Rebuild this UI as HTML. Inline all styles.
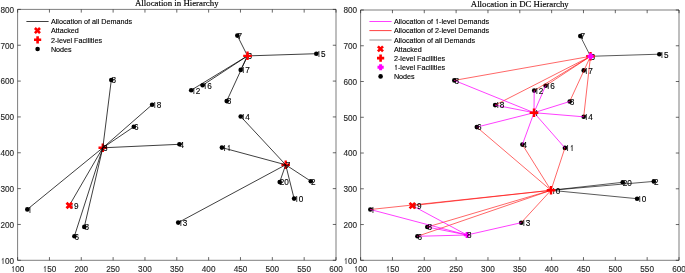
<!DOCTYPE html>
<html><head><meta charset="utf-8"><style>
html,body{margin:0;padding:0;background:#fff;width:685px;height:273px;overflow:hidden}
svg{display:block;will-change:transform}
.tk{font-family:"Liberation Sans",sans-serif;font-size:8.2px;fill:#262626;stroke:#262626;stroke-width:0.12px}
.lg{font-family:"Liberation Sans",sans-serif;font-size:7.2px;fill:#000;stroke:#000;stroke-width:0.12px}
.lb{font-family:"Liberation Sans",sans-serif;font-size:8.2px;fill:#000;stroke:#000;stroke-width:0.12px}
.tt{font-family:"Liberation Serif",serif;font-size:8.8px;fill:#000;stroke:#000;stroke-width:0.15px}
</style></head><body>
<svg width="685" height="273" viewBox="0 0 685 273">
<rect width="685" height="273" fill="#fff"/>
<text x="176.8" y="6.4" class="tt" text-anchor="middle">Allocation in Hierarchy</text>
<path d="M17.6 260.3V9.4H336.0V260.3Z" stroke="#262626" stroke-width="0.6" fill="none"/>
<path d="M17.60 260.3v-3.2M17.60 9.4v3.2" stroke="#262626" stroke-width="0.7"/>
<text x="10.76" y="272.20" class="tk"> 00</text><path d="M13.31 272.00V266.25M13.51 266.55L12.01 267.75" stroke="#262626" stroke-width="0.75" fill="none"/>
<path d="M49.44 260.3v-3.2M49.44 9.4v3.2" stroke="#262626" stroke-width="0.7"/>
<text x="42.60" y="272.20" class="tk"> 50</text><path d="M45.15 272.00V266.25M45.35 266.55L43.85 267.75" stroke="#262626" stroke-width="0.75" fill="none"/>
<path d="M81.28 260.3v-3.2M81.28 9.4v3.2" stroke="#262626" stroke-width="0.7"/>
<text x="74.44" y="272.20" class="tk">200</text>
<path d="M113.12 260.3v-3.2M113.12 9.4v3.2" stroke="#262626" stroke-width="0.7"/>
<text x="106.28" y="272.20" class="tk">250</text>
<path d="M144.96 260.3v-3.2M144.96 9.4v3.2" stroke="#262626" stroke-width="0.7"/>
<text x="138.12" y="272.20" class="tk">300</text>
<path d="M176.80 260.3v-3.2M176.80 9.4v3.2" stroke="#262626" stroke-width="0.7"/>
<text x="169.96" y="272.20" class="tk">350</text>
<path d="M208.64 260.3v-3.2M208.64 9.4v3.2" stroke="#262626" stroke-width="0.7"/>
<text x="201.80" y="272.20" class="tk">400</text>
<path d="M240.48 260.3v-3.2M240.48 9.4v3.2" stroke="#262626" stroke-width="0.7"/>
<text x="233.64" y="272.20" class="tk">450</text>
<path d="M272.32 260.3v-3.2M272.32 9.4v3.2" stroke="#262626" stroke-width="0.7"/>
<text x="265.48" y="272.20" class="tk">500</text>
<path d="M304.16 260.3v-3.2M304.16 9.4v3.2" stroke="#262626" stroke-width="0.7"/>
<text x="297.32" y="272.20" class="tk">550</text>
<path d="M336.00 260.3v-3.2M336.00 9.4v3.2" stroke="#262626" stroke-width="0.7"/>
<text x="329.16" y="272.20" class="tk">600</text>
<path d="M17.6 260.30h3.2M336.0 260.30h-3.2" stroke="#262626" stroke-width="0.7"/>
<text x="0.52" y="263.60" class="tk"> 00</text><path d="M3.07 264.00V258.25M3.27 258.55L1.77 259.75" stroke="#262626" stroke-width="0.75" fill="none"/>
<path d="M17.6 224.46h3.2M336.0 224.46h-3.2" stroke="#262626" stroke-width="0.7"/>
<text x="0.52" y="227.76" class="tk">200</text>
<path d="M17.6 188.61h3.2M336.0 188.61h-3.2" stroke="#262626" stroke-width="0.7"/>
<text x="0.52" y="191.91" class="tk">300</text>
<path d="M17.6 152.77h3.2M336.0 152.77h-3.2" stroke="#262626" stroke-width="0.7"/>
<text x="0.52" y="156.07" class="tk">400</text>
<path d="M17.6 116.93h3.2M336.0 116.93h-3.2" stroke="#262626" stroke-width="0.7"/>
<text x="0.52" y="120.23" class="tk">500</text>
<path d="M17.6 81.09h3.2M336.0 81.09h-3.2" stroke="#262626" stroke-width="0.7"/>
<text x="0.52" y="84.39" class="tk">600</text>
<path d="M17.6 45.24h3.2M336.0 45.24h-3.2" stroke="#262626" stroke-width="0.7"/>
<text x="0.52" y="48.54" class="tk">700</text>
<path d="M17.6 9.40h3.2M336.0 9.40h-3.2" stroke="#262626" stroke-width="0.7"/>
<text x="0.52" y="12.70" class="tk">800</text>
<path d="M98.5 147.8H107.1M102.8 143.5V152.1" stroke="#f00" stroke-width="2.4" fill="none"/>
<path d="M281.4 164.8H290.0M285.7 160.5V169.1" stroke="#f00" stroke-width="2.4" fill="none"/>
<line x1="247.5" y1="55.9" x2="237.3" y2="35.6" stroke="#000" stroke-width="0.75"/>
<line x1="247.5" y1="55.9" x2="316.3" y2="53.7" stroke="#000" stroke-width="0.75"/>
<line x1="247.5" y1="55.9" x2="240.7" y2="69.9" stroke="#000" stroke-width="0.75"/>
<line x1="247.5" y1="55.9" x2="226.7" y2="101.1" stroke="#000" stroke-width="0.75"/>
<line x1="247.5" y1="55.9" x2="202.6" y2="85.3" stroke="#000" stroke-width="0.75"/>
<line x1="247.5" y1="55.9" x2="191.2" y2="90.2" stroke="#000" stroke-width="0.75"/>
<line x1="102.8" y1="147.8" x2="111.3" y2="80.0" stroke="#000" stroke-width="0.75"/>
<line x1="102.8" y1="147.8" x2="152.1" y2="104.7" stroke="#000" stroke-width="0.75"/>
<line x1="102.8" y1="147.8" x2="133.8" y2="126.8" stroke="#000" stroke-width="0.75"/>
<line x1="102.8" y1="147.8" x2="179.4" y2="144.3" stroke="#000" stroke-width="0.75"/>
<line x1="102.8" y1="147.8" x2="27.3" y2="209.4" stroke="#000" stroke-width="0.75"/>
<line x1="102.8" y1="147.8" x2="69.3" y2="205.5" stroke="#000" stroke-width="0.75"/>
<line x1="102.8" y1="147.8" x2="84.3" y2="226.9" stroke="#000" stroke-width="0.75"/>
<line x1="102.8" y1="147.8" x2="74.4" y2="236.2" stroke="#000" stroke-width="0.75"/>
<line x1="285.7" y1="164.8" x2="240.7" y2="116.5" stroke="#000" stroke-width="0.75"/>
<line x1="285.7" y1="164.8" x2="221.9" y2="147.6" stroke="#000" stroke-width="0.75"/>
<line x1="285.7" y1="164.8" x2="279.7" y2="182.1" stroke="#000" stroke-width="0.75"/>
<line x1="285.7" y1="164.8" x2="310.8" y2="181.2" stroke="#000" stroke-width="0.75"/>
<line x1="285.7" y1="164.8" x2="294.1" y2="198.6" stroke="#000" stroke-width="0.75"/>
<line x1="285.7" y1="164.8" x2="178.2" y2="222.6" stroke="#000" stroke-width="0.75"/>
<text x="237.40" y="38.95" class="lb">7</text>
<text x="316.40" y="57.05" class="lb"> 5</text><path d="M318.95 57.00V51.25M319.15 51.55L317.65 52.75" stroke="#000" stroke-width="0.75" fill="none"/>
<text x="240.80" y="73.25" class="lb"> 7</text><path d="M243.35 73.00V67.25M243.55 67.55L242.05 68.75" stroke="#000" stroke-width="0.75" fill="none"/>
<text x="202.70" y="88.65" class="lb"> 6</text><path d="M205.25 89.00V83.25M205.45 83.55L203.95 84.75" stroke="#000" stroke-width="0.75" fill="none"/>
<text x="191.30" y="93.55" class="lb"> 2</text><path d="M193.85 94.00V88.25M194.05 88.55L192.55 89.75" stroke="#000" stroke-width="0.75" fill="none"/>
<text x="226.80" y="104.45" class="lb">8</text>
<text x="240.80" y="119.80" class="lb"> 4</text><path d="M243.35 120.00V114.25M243.55 114.55L242.05 115.75" stroke="#000" stroke-width="0.75" fill="none"/>
<text x="111.40" y="83.30" class="lb">8</text>
<text x="152.20" y="108.05" class="lb"> 8</text><path d="M154.75 108.00V102.25M154.95 102.55L153.45 103.75" stroke="#000" stroke-width="0.75" fill="none"/>
<text x="133.90" y="130.15" class="lb">6</text>
<text x="179.50" y="147.65" class="lb">4</text>
<path d="M224.55 151.00V145.25M224.75 145.55L223.25 146.75" stroke="#000" stroke-width="0.75" fill="none"/><path d="M229.11 151.00V145.25M229.31 145.55L227.81 146.75" stroke="#000" stroke-width="0.75" fill="none"/>
<text x="279.80" y="185.45" class="lb">20</text>
<text x="310.90" y="184.55" class="lb">2</text>
<text x="294.20" y="201.95" class="lb"> 0</text><path d="M296.75 202.00V196.25M296.95 196.55L295.45 197.75" stroke="#000" stroke-width="0.75" fill="none"/>
<text x="178.30" y="225.95" class="lb"> 3</text><path d="M180.85 226.00V220.25M181.05 220.55L179.55 221.75" stroke="#000" stroke-width="0.75" fill="none"/>
<path d="M29.95 213.00V207.25M30.15 207.55L28.65 208.75" stroke="#000" stroke-width="0.75" fill="none"/>
<text x="84.40" y="230.25" class="lb">8</text>
<text x="74.50" y="239.55" class="lb">6</text>
<text x="69.40" y="208.85" class="lb"> 9</text><path d="M71.95 209.00V203.25M72.15 203.55L70.65 204.75" stroke="#000" stroke-width="0.75" fill="none"/>
<text x="247.60" y="59.20" class="lb">3</text>
<text x="102.90" y="151.15" class="lb">3</text>
<text x="285.80" y="168.15" class="lb">7</text>
<circle cx="237.3" cy="35.6" r="2.3" fill="#000"/>
<circle cx="316.3" cy="53.7" r="2.3" fill="#000"/>
<circle cx="240.7" cy="69.9" r="2.3" fill="#000"/>
<circle cx="202.6" cy="85.3" r="2.3" fill="#000"/>
<circle cx="191.2" cy="90.2" r="2.3" fill="#000"/>
<circle cx="226.7" cy="101.1" r="2.3" fill="#000"/>
<circle cx="240.7" cy="116.5" r="2.3" fill="#000"/>
<circle cx="111.3" cy="80.0" r="2.3" fill="#000"/>
<circle cx="152.1" cy="104.7" r="2.3" fill="#000"/>
<circle cx="133.8" cy="126.8" r="2.3" fill="#000"/>
<circle cx="179.4" cy="144.3" r="2.3" fill="#000"/>
<circle cx="221.9" cy="147.6" r="2.3" fill="#000"/>
<circle cx="279.7" cy="182.1" r="2.3" fill="#000"/>
<circle cx="310.8" cy="181.2" r="2.3" fill="#000"/>
<circle cx="294.1" cy="198.6" r="2.3" fill="#000"/>
<circle cx="178.2" cy="222.6" r="2.3" fill="#000"/>
<circle cx="27.3" cy="209.4" r="2.3" fill="#000"/>
<circle cx="84.3" cy="226.9" r="2.3" fill="#000"/>
<circle cx="74.4" cy="236.2" r="2.3" fill="#000"/>
<path d="M66.5 202.8L72.0 208.2M66.5 208.2L72.0 202.8" stroke="#f00" stroke-width="2.7" fill="none"/>
<path d="M243.2 55.9H251.8M247.5 51.6V60.1" stroke="#f00" stroke-width="2.4" fill="none"/>
<line x1="26.4" y1="21.5" x2="48.6" y2="21.5" stroke="#000" stroke-width="0.75"/>
<text x="50.9" y="24.3" class="lg">Allocation of all Demands</text>
<path d="M34.9 28.0L40.0 33.1M34.9 33.1L40.0 28.0" stroke="#f00" stroke-width="2.6" fill="none"/>
<text x="50.9" y="33.4" class="lg">Attacked</text>
<path d="M34.0 39.8H41.2M37.6 36.2V43.4" stroke="#f00" stroke-width="2.6" fill="none"/>
<text x="50.9" y="42.6" class="lg">2-level Facilities</text>
<circle cx="37.6" cy="49.0" r="2.3" fill="#000"/>
<text x="50.9" y="51.8" class="lg">Nodes</text>
<text x="519.8" y="6.9" class="tt" text-anchor="middle">Allocation in DC Hierarchy</text>
<path d="M360.6 260.3V10.0H679.0V260.3Z" stroke="#262626" stroke-width="0.6" fill="none"/>
<path d="M360.60 260.3v-3.2M360.60 10.0v3.2" stroke="#262626" stroke-width="0.7"/>
<text x="353.76" y="272.20" class="tk"> 00</text><path d="M356.31 272.00V266.25M356.51 266.55L355.01 267.75" stroke="#262626" stroke-width="0.75" fill="none"/>
<path d="M392.44 260.3v-3.2M392.44 10.0v3.2" stroke="#262626" stroke-width="0.7"/>
<text x="385.60" y="272.20" class="tk"> 50</text><path d="M388.15 272.00V266.25M388.35 266.55L386.85 267.75" stroke="#262626" stroke-width="0.75" fill="none"/>
<path d="M424.28 260.3v-3.2M424.28 10.0v3.2" stroke="#262626" stroke-width="0.7"/>
<text x="417.44" y="272.20" class="tk">200</text>
<path d="M456.12 260.3v-3.2M456.12 10.0v3.2" stroke="#262626" stroke-width="0.7"/>
<text x="449.28" y="272.20" class="tk">250</text>
<path d="M487.96 260.3v-3.2M487.96 10.0v3.2" stroke="#262626" stroke-width="0.7"/>
<text x="481.12" y="272.20" class="tk">300</text>
<path d="M519.80 260.3v-3.2M519.80 10.0v3.2" stroke="#262626" stroke-width="0.7"/>
<text x="512.96" y="272.20" class="tk">350</text>
<path d="M551.64 260.3v-3.2M551.64 10.0v3.2" stroke="#262626" stroke-width="0.7"/>
<text x="544.80" y="272.20" class="tk">400</text>
<path d="M583.48 260.3v-3.2M583.48 10.0v3.2" stroke="#262626" stroke-width="0.7"/>
<text x="576.64" y="272.20" class="tk">450</text>
<path d="M615.32 260.3v-3.2M615.32 10.0v3.2" stroke="#262626" stroke-width="0.7"/>
<text x="608.48" y="272.20" class="tk">500</text>
<path d="M647.16 260.3v-3.2M647.16 10.0v3.2" stroke="#262626" stroke-width="0.7"/>
<text x="640.32" y="272.20" class="tk">550</text>
<path d="M679.00 260.3v-3.2M679.00 10.0v3.2" stroke="#262626" stroke-width="0.7"/>
<text x="672.16" y="272.20" class="tk">600</text>
<path d="M360.6 260.30h3.2M679.0 260.30h-3.2" stroke="#262626" stroke-width="0.7"/>
<text x="343.52" y="263.60" class="tk"> 00</text><path d="M346.07 264.00V258.25M346.27 258.55L344.77 259.75" stroke="#262626" stroke-width="0.75" fill="none"/>
<path d="M360.6 224.54h3.2M679.0 224.54h-3.2" stroke="#262626" stroke-width="0.7"/>
<text x="343.52" y="227.84" class="tk">200</text>
<path d="M360.6 188.79h3.2M679.0 188.79h-3.2" stroke="#262626" stroke-width="0.7"/>
<text x="343.52" y="192.09" class="tk">300</text>
<path d="M360.6 153.03h3.2M679.0 153.03h-3.2" stroke="#262626" stroke-width="0.7"/>
<text x="343.52" y="156.33" class="tk">400</text>
<path d="M360.6 117.27h3.2M679.0 117.27h-3.2" stroke="#262626" stroke-width="0.7"/>
<text x="343.52" y="120.57" class="tk">500</text>
<path d="M360.6 81.51h3.2M679.0 81.51h-3.2" stroke="#262626" stroke-width="0.7"/>
<text x="343.52" y="84.81" class="tk">600</text>
<path d="M360.6 45.76h3.2M679.0 45.76h-3.2" stroke="#262626" stroke-width="0.7"/>
<text x="343.52" y="49.06" class="tk">700</text>
<path d="M360.6 10.00h3.2M679.0 10.00h-3.2" stroke="#262626" stroke-width="0.7"/>
<text x="343.52" y="13.30" class="tk">800</text>
<circle cx="580.3" cy="36.1" r="2.3" fill="#000"/>
<circle cx="659.3" cy="54.2" r="2.3" fill="#000"/>
<circle cx="583.7" cy="70.4" r="2.3" fill="#000"/>
<circle cx="545.6" cy="85.7" r="2.3" fill="#000"/>
<circle cx="534.2" cy="90.6" r="2.3" fill="#000"/>
<circle cx="569.7" cy="101.5" r="2.3" fill="#000"/>
<circle cx="583.7" cy="116.8" r="2.3" fill="#000"/>
<circle cx="454.3" cy="80.4" r="2.3" fill="#000"/>
<circle cx="495.1" cy="105.1" r="2.3" fill="#000"/>
<circle cx="476.8" cy="127.1" r="2.3" fill="#000"/>
<circle cx="522.4" cy="144.6" r="2.3" fill="#000"/>
<circle cx="564.9" cy="147.9" r="2.3" fill="#000"/>
<circle cx="622.7" cy="182.3" r="2.3" fill="#000"/>
<circle cx="653.8" cy="181.4" r="2.3" fill="#000"/>
<circle cx="637.1" cy="198.7" r="2.3" fill="#000"/>
<circle cx="521.2" cy="222.7" r="2.3" fill="#000"/>
<circle cx="370.3" cy="209.5" r="2.3" fill="#000"/>
<circle cx="427.3" cy="227.0" r="2.3" fill="#000"/>
<circle cx="417.4" cy="236.3" r="2.3" fill="#000"/>
<line x1="590.5" y1="56.3" x2="580.3" y2="36.1" stroke="#000" stroke-width="0.65"/>
<line x1="590.5" y1="56.3" x2="659.3" y2="54.2" stroke="#000" stroke-width="0.65"/>
<line x1="551.0" y1="190.3" x2="622.7" y2="182.3" stroke="#000" stroke-width="0.65"/>
<line x1="551.0" y1="190.3" x2="653.8" y2="181.4" stroke="#000" stroke-width="0.65"/>
<line x1="551.0" y1="190.3" x2="637.1" y2="198.7" stroke="#000" stroke-width="0.65"/>
<line x1="590.5" y1="56.3" x2="454.3" y2="80.4" stroke="#ff0000" stroke-width="0.6"/>
<line x1="590.5" y1="56.3" x2="495.1" y2="105.1" stroke="#ff0000" stroke-width="0.6"/>
<line x1="590.5" y1="56.3" x2="534.2" y2="90.6" stroke="#ff0000" stroke-width="0.6"/>
<line x1="590.5" y1="56.3" x2="545.6" y2="85.7" stroke="#ff0000" stroke-width="0.6"/>
<line x1="590.5" y1="56.3" x2="569.7" y2="101.5" stroke="#ff0000" stroke-width="0.6"/>
<line x1="590.5" y1="56.3" x2="583.7" y2="116.8" stroke="#ff0000" stroke-width="0.6"/>
<line x1="551.0" y1="190.3" x2="476.8" y2="127.1" stroke="#ff0000" stroke-width="0.6"/>
<line x1="551.0" y1="190.3" x2="522.4" y2="144.6" stroke="#ff0000" stroke-width="0.6"/>
<line x1="551.0" y1="190.3" x2="564.9" y2="147.9" stroke="#ff0000" stroke-width="0.6"/>
<line x1="551.0" y1="190.3" x2="521.2" y2="222.7" stroke="#ff0000" stroke-width="0.6"/>
<line x1="551.0" y1="190.3" x2="427.3" y2="227.0" stroke="#ff0000" stroke-width="0.6"/>
<line x1="551.0" y1="190.3" x2="417.4" y2="236.3" stroke="#ff0000" stroke-width="0.6"/>
<line x1="551.0" y1="190.3" x2="412.3" y2="205.6" stroke="#ff0000" stroke-width="0.6"/>
<line x1="551.0" y1="190.3" x2="370.3" y2="209.5" stroke="#ff0000" stroke-width="0.6"/>
<line x1="534.0" y1="112.7" x2="454.3" y2="80.4" stroke="#ff00ff" stroke-width="0.75"/>
<line x1="534.0" y1="112.7" x2="495.1" y2="105.1" stroke="#ff00ff" stroke-width="0.75"/>
<line x1="534.0" y1="112.7" x2="534.2" y2="90.6" stroke="#ff00ff" stroke-width="0.75"/>
<line x1="534.0" y1="112.7" x2="545.6" y2="85.7" stroke="#ff00ff" stroke-width="0.75"/>
<line x1="534.0" y1="112.7" x2="569.7" y2="101.5" stroke="#ff00ff" stroke-width="0.75"/>
<line x1="534.0" y1="112.7" x2="583.7" y2="116.8" stroke="#ff00ff" stroke-width="0.75"/>
<line x1="534.0" y1="112.7" x2="476.8" y2="127.1" stroke="#ff00ff" stroke-width="0.75"/>
<line x1="534.0" y1="112.7" x2="522.4" y2="144.6" stroke="#ff00ff" stroke-width="0.75"/>
<line x1="534.0" y1="112.7" x2="564.9" y2="147.9" stroke="#ff00ff" stroke-width="0.75"/>
<line x1="467.0" y1="235.0" x2="370.3" y2="209.5" stroke="#ff00ff" stroke-width="0.75"/>
<line x1="467.0" y1="235.0" x2="412.3" y2="205.6" stroke="#ff00ff" stroke-width="0.75"/>
<line x1="467.0" y1="235.0" x2="427.3" y2="227.0" stroke="#ff00ff" stroke-width="0.75"/>
<line x1="467.0" y1="235.0" x2="417.4" y2="236.3" stroke="#ff00ff" stroke-width="0.75"/>
<line x1="467.0" y1="235.0" x2="521.2" y2="222.7" stroke="#ff00ff" stroke-width="0.75"/>
<text x="580.40" y="39.49" class="lb">7</text>
<text x="659.40" y="57.54" class="lb"> 5</text><path d="M661.95 58.00V52.25M662.15 52.55L660.65 53.75" stroke="#000" stroke-width="0.75" fill="none"/>
<text x="583.80" y="73.71" class="lb"> 7</text><path d="M586.35 74.00V68.25M586.55 68.55L585.05 69.75" stroke="#000" stroke-width="0.75" fill="none"/>
<text x="545.70" y="89.07" class="lb"> 6</text><path d="M548.25 89.00V83.25M548.45 83.55L546.95 84.75" stroke="#000" stroke-width="0.75" fill="none"/>
<text x="534.30" y="93.96" class="lb"> 2</text><path d="M536.85 94.00V88.25M537.05 88.55L535.55 89.75" stroke="#000" stroke-width="0.75" fill="none"/>
<text x="569.80" y="104.83" class="lb">8</text>
<text x="583.80" y="120.14" class="lb"> 4</text><path d="M586.35 120.00V114.25M586.55 114.55L585.05 115.75" stroke="#000" stroke-width="0.75" fill="none"/>
<text x="454.40" y="83.73" class="lb">8</text>
<text x="495.20" y="108.42" class="lb"> 8</text><path d="M497.75 108.00V102.25M497.95 102.55L496.45 103.75" stroke="#000" stroke-width="0.75" fill="none"/>
<text x="476.90" y="130.47" class="lb">6</text>
<text x="522.50" y="147.93" class="lb">4</text>
<path d="M567.55 151.00V145.25M567.75 145.55L566.25 146.75" stroke="#000" stroke-width="0.75" fill="none"/><path d="M572.11 151.00V145.25M572.31 145.55L570.81 146.75" stroke="#000" stroke-width="0.75" fill="none"/>
<text x="622.80" y="185.64" class="lb">20</text>
<text x="653.90" y="184.74" class="lb">2</text>
<text x="637.20" y="202.10" class="lb"> 0</text><path d="M639.75 202.00V196.25M639.95 196.55L638.45 197.75" stroke="#000" stroke-width="0.75" fill="none"/>
<text x="521.30" y="226.04" class="lb"> 3</text><path d="M523.85 226.00V220.25M524.05 220.55L522.55 221.75" stroke="#000" stroke-width="0.75" fill="none"/>
<path d="M372.95 213.00V207.25M373.15 207.55L371.65 208.75" stroke="#000" stroke-width="0.75" fill="none"/>
<text x="427.40" y="230.33" class="lb">8</text>
<text x="417.50" y="239.61" class="lb">6</text>
<text x="412.40" y="208.98" class="lb"> 9</text><path d="M414.95 209.00V203.25M415.15 203.55L413.65 204.75" stroke="#000" stroke-width="0.75" fill="none"/>
<text x="590.60" y="59.69" class="lb">3</text>
<path d="M536.65 116.00V110.25M536.85 110.55L535.35 111.75" stroke="#000" stroke-width="0.75" fill="none"/>
<text x="551.10" y="193.65" class="lb"> 0</text><path d="M553.65 194.00V188.25M553.85 188.55L552.35 189.75" stroke="#000" stroke-width="0.75" fill="none"/>
<path d="M409.6 202.9L415.1 208.4M409.6 208.4L415.1 202.9" stroke="#f00" stroke-width="2.7" fill="none"/>
<path d="M586.2 56.3H594.8M590.5 52.0V60.6" stroke="#f00" stroke-width="2.4" fill="none"/>
<path d="M529.7 112.7H538.3M534.0 108.4V117.0" stroke="#f00" stroke-width="2.4" fill="none"/>
<path d="M546.7 190.3H555.3M551.0 186.0V194.6" stroke="#f00" stroke-width="2.4" fill="none"/>
<path d="M587.5 56.3H593.5M590.5 53.3V59.3" stroke="#ff00ff" stroke-width="3.2" fill="none"/>
<path d="M463.8 235.0H469.8M466.8 232.0V238.0" stroke="#ff00ff" stroke-width="2.3" fill="none"/>
<text x="467.10" y="238.35" class="lb">8</text>
<line x1="369.4" y1="21.5" x2="391.6" y2="21.5" stroke="#ff00ff" stroke-width="0.75"/>
<text x="393.9" y="24.3" class="lg">Allocation of  -level Demands</text>
<path d="M437.27 24V19.05M437.47 19.35L436.17 20.35" stroke="#000" stroke-width="0.75" fill="none"/>
<line x1="369.4" y1="30.6" x2="391.6" y2="30.6" stroke="#ff0000" stroke-width="0.75"/>
<text x="393.9" y="33.4" class="lg">Allocation of 2-level Demands</text>
<line x1="369.4" y1="40.0" x2="391.6" y2="40.0" stroke="#777" stroke-width="0.8"/>
<text x="393.9" y="42.6" class="lg">Allocation of all Demands</text>
<path d="M377.9 46.3L383.0 51.4M377.9 51.4L383.0 46.3" stroke="#f00" stroke-width="2.6" fill="none"/>
<text x="393.9" y="51.8" class="lg">Attacked</text>
<path d="M377.0 58.1H384.2M380.6 54.5V61.7" stroke="#f00" stroke-width="2.6" fill="none"/>
<text x="393.9" y="60.9" class="lg">2-level Facilities</text>
<path d="M377.5 67.2H383.7M380.6 64.2V70.3" stroke="#ff00ff" stroke-width="3.0" fill="none"/>
<text x="393.9" y="70.0" class="lg"> -level Facilities</text>
<path d="M396.13 70V65.05M396.33 65.35L395.03 66.35" stroke="#000" stroke-width="0.75" fill="none"/>
<circle cx="380.6" cy="76.4" r="2.3" fill="#000"/>
<text x="393.9" y="79.2" class="lg">Nodes</text>
</svg>
</body></html>
